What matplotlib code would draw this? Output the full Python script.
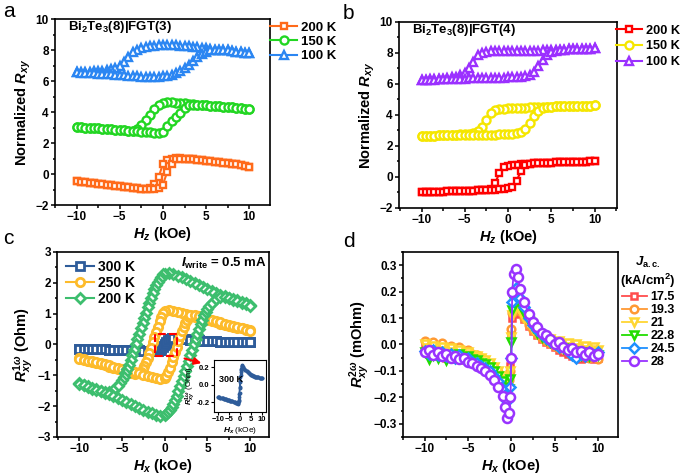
import matplotlib
matplotlib.use("Agg")
import matplotlib.pyplot as plt
from matplotlib.patches import Rectangle
from matplotlib.ticker import MultipleLocator

plt.rcParams['font.family'] = ['Liberation Sans', 'DejaVu Sans']
plt.rcParams['font.weight'] = 'bold'
plt.rcParams['axes.labelweight'] = 'bold'
plt.rcParams['mathtext.fontset'] = 'custom'
plt.rcParams['mathtext.rm'] = 'Liberation Sans:bold'
plt.rcParams['mathtext.it'] = 'Liberation Sans:italic:bold'
plt.rcParams['mathtext.bf'] = 'Liberation Sans:bold'

# ---------------- panel a / b : field grid (kOe) ----------------
H = [-10, -9.5, -9, -8.5, -8, -7.5, -7, -6.5, -6, -5.5, -5, -4.5, -4, -3.5, -3, -2.5, -2, -1.5, -1, -0.5,
     0, 0.5, 1, 1.5, 2, 2.5, 3, 3.5, 4, 4.5, 5, 5.5, 6, 6.5, 7, 7.5, 8, 8.5, 9, 9.5, 10]

# panel a, Bi2Te3(8)|FGT(3); "up" = sweep from -10, "dn" = sweep from +10
a200_up = [-0.45, -0.49, -0.53, -0.57, -0.6, -0.63, -0.67, -0.7, -0.73, -0.77, -0.8, -0.83, -0.86, -0.89, -0.92, -0.95, -0.97, -0.99, -0.98, -0.93,
           -0.7, 0.15, 0.62, 0.95, 1.0, 0.98, 0.96, 0.94, 0.92, 0.9, 0.87, 0.84, 0.8, 0.77, 0.73, 0.7, 0.66, 0.62, 0.57, 0.52, 0.46]
a200_dn = [-0.45, -0.49, -0.53, -0.57, -0.6, -0.63, -0.67, -0.7, -0.73, -0.77, -0.8, -0.83, -0.86, -0.89, -0.92, -0.95, -0.97, -0.92, -0.65, -0.2,
           0.65, 0.92, 1.0, 1.02, 1.01, 0.98, 0.96, 0.94, 0.92, 0.9, 0.87, 0.84, 0.8, 0.77, 0.73, 0.7, 0.66, 0.62, 0.57, 0.52, 0.46]
a150_up = [3.05, 3.02, 3.0, 2.98, 2.96, 2.94, 2.92, 2.9, 2.88, 2.86, 2.84, 2.82, 2.8, 2.78, 2.76, 2.74, 2.71, 2.68, 2.65, 2.63,
           2.72, 3.1, 3.4, 3.68, 3.95, 4.25, 4.42, 4.46, 4.46, 4.45, 4.43, 4.41, 4.39, 4.37, 4.35, 4.33, 4.3, 4.28, 4.25, 4.22, 4.2]
a150_dn = [3.05, 3.02, 3.0, 2.98, 2.96, 2.94, 2.92, 2.9, 2.88, 2.86, 2.84, 2.82, 2.8, 2.8, 2.9, 3.18, 3.5, 3.8, 4.17, 4.45,
           4.58, 4.62, 4.62, 4.6, 4.58, 4.56, 4.53, 4.5, 4.47, 4.45, 4.43, 4.41, 4.39, 4.37, 4.35, 4.33, 4.3, 4.28, 4.25, 4.22, 4.2]
a100_up = [6.55, 6.54, 6.53, 6.51, 6.5, 6.48, 6.46, 6.44, 6.42, 6.4, 6.38, 6.36, 6.34, 6.32, 6.3, 6.29, 6.28, 6.27, 6.27, 6.28,
           6.3, 6.34, 6.4, 6.5, 6.64, 6.84, 7.06, 7.3, 7.55, 7.75, 7.9, 7.98, 8.02, 8.02, 8.0, 7.97, 7.94, 7.9, 7.86, 7.82, 7.78]
a100_dn = [6.55, 6.57, 6.58, 6.6, 6.62, 6.64, 6.67, 6.71, 6.76, 6.84, 7.0, 7.25, 7.55, 7.85, 8.02, 8.12, 8.2, 8.25, 8.28, 8.3,
           8.31, 8.32, 8.31, 8.3, 8.28, 8.26, 8.24, 8.21, 8.18, 8.14, 8.1, 8.06, 8.03, 8.02, 8.0, 7.97, 7.94, 7.9, 7.86, 7.82, 7.78]

# panel b, Bi2Te3(8)|FGT(4)
b200_dn = [-0.98, -0.97, -0.96, -0.96, -0.95, -0.94, -0.93, -0.93, -0.92, -0.91, -0.9, -0.89, -0.88, -0.86, -0.84, -0.82, -0.78, -0.4, 0.25, 0.62,
           0.74, 0.78, 0.8, 0.82, 0.85, 0.87, 0.89, 0.9, 0.91, 0.92, 0.93, 0.94, 0.95, 0.96, 0.96, 0.97, 0.98, 0.98, 0.99, 1.0, 1.0]
b200_up = [-0.98, -0.97, -0.96, -0.96, -0.95, -0.94, -0.93, -0.93, -0.92, -0.91, -0.9, -0.89, -0.88, -0.86, -0.84, -0.82, -0.84, -0.82, -0.8, -0.78,
           -0.74, -0.62, -0.25, 0.4, 0.76, 0.84, 0.89, 0.9, 0.91, 0.92, 0.93, 0.94, 0.95, 0.96, 0.96, 0.97, 0.98, 0.98, 0.99, 1.0, 1.0]
b150_dn = [2.64, 2.65, 2.66, 2.67, 2.68, 2.69, 2.7, 2.72, 2.73, 2.75, 2.77, 2.8, 2.85, 2.95, 3.25, 3.7, 4.1, 4.3, 4.36, 4.4,
           4.42, 4.44, 4.46, 4.47, 4.48, 4.49, 4.5, 4.51, 4.52, 4.53, 4.54, 4.55, 4.56, 4.57, 4.58, 4.58, 4.59, 4.6, 4.6, 4.61, 4.62]
b150_up = [2.64, 2.65, 2.66, 2.67, 2.68, 2.69, 2.7, 2.7, 2.71, 2.71, 2.72, 2.72, 2.72, 2.73, 2.73, 2.73, 2.74, 2.74, 2.75, 2.76,
           2.77, 2.79, 2.82, 2.9, 3.1, 3.5, 3.95, 4.25, 4.42, 4.5, 4.54, 4.55, 4.56, 4.57, 4.58, 4.58, 4.59, 4.6, 4.6, 4.61, 4.62]
b100_dn = [6.25, 6.27, 6.29, 6.31, 6.33, 6.35, 6.38, 6.42, 6.47, 6.55, 6.7, 7.0, 7.45, 7.85, 8.0, 8.07, 8.1, 8.11, 8.12, 8.12,
           8.13, 8.13, 8.14, 8.14, 8.15, 8.15, 8.16, 8.16, 8.17, 8.18, 8.19, 8.2, 8.21, 8.22, 8.23, 8.24, 8.25, 8.26, 8.27, 8.28, 8.3]
b100_up = [6.25, 6.26, 6.27, 6.28, 6.29, 6.3, 6.31, 6.32, 6.33, 6.34, 6.35, 6.36, 6.36, 6.37, 6.38, 6.38, 6.39, 6.4, 6.4, 6.41,
           6.42, 6.43, 6.44, 6.46, 6.5, 6.6, 6.8, 7.15, 7.55, 7.85, 8.05, 8.15, 8.21, 8.22, 8.23, 8.24, 8.25, 8.26, 8.27, 8.28, 8.3]

# ---------------- panel c : first harmonic, Iwrite = 0.5 mA ----------------
c200_up_x = [-10, -9.5, -9, -8.5, -8, -7.5, -7, -6.5, -6, -5.5, -5, -4.5, -4, -3.5, -3, -2.5, -2, -1.5, -1, -0.5, 0,
             0.2, 0.4, 0.6, 0.8, 1.0, 1.2, 1.4, 1.6, 1.8, 2.0, 2.2, 2.4, 2.6, 2.8, 3.0, 3.2, 3.4, 3.6, 3.8, 4.0,
             4.2, 4.4, 4.6, 4.8, 5.0, 5.2, 5.5, 6, 6.5, 7, 7.5, 8, 8.5, 9, 9.5, 10]
c200_up_y = [-1.28, -1.33, -1.38, -1.43, -1.48, -1.52, -1.56, -1.6, -1.66, -1.73, -1.8, -1.87, -1.94, -2.0, -2.06, -2.12, -2.18, -2.23, -2.28, -2.31, -2.3,
             -2.27, -2.2, -2.12, -2.03, -1.93, -1.8, -1.66, -1.52, -1.36, -1.2, -1.03, -0.86, -0.69, -0.52, -0.35, -0.17, 0.0, 0.17, 0.34, 0.5,
             0.66, 0.81, 0.94, 1.06, 1.16, 1.25, 1.36, 1.48, 1.55, 1.55, 1.5, 1.45, 1.4, 1.35, 1.3, 1.25]
c200_dn_x = [-10, -9.5, -9, -8.5, -8, -7.5, -7, -6.5, -6, -5.5, -5.2, -5.0, -4.8, -4.6, -4.4, -4.2, -4.0, -3.8, -3.6, -3.4, -3.2,
             -3.0, -2.8, -2.6, -2.4, -2.2, -2.0, -1.8, -1.6, -1.4, -1.2, -1.0, -0.8, -0.6, -0.4, -0.2, 0,
             0.5, 1, 1.5, 2, 2.5, 3, 3.5, 4, 4.5, 5, 5.5, 6, 6.5, 7, 7.5, 8, 8.5, 9, 9.5, 10]
c200_dn_y = [-1.25, -1.3, -1.35, -1.4, -1.45, -1.5, -1.55, -1.55, -1.48, -1.36, -1.25, -1.16, -1.06, -0.94, -0.81, -0.66, -0.5, -0.34, -0.17, 0.0, 0.17,
             0.35, 0.52, 0.69, 0.86, 1.03, 1.2, 1.36, 1.52, 1.66, 1.8, 1.93, 2.03, 2.12, 2.2, 2.27, 2.3,
             2.31, 2.28, 2.23, 2.18, 2.12, 2.06, 2.0, 1.94, 1.87, 1.8, 1.73, 1.66, 1.6, 1.56, 1.52, 1.48, 1.43, 1.38, 1.33, 1.28]

c250_up_x = [-10, -9.5, -9, -8.5, -8, -7.5, -7, -6.5, -6, -5.5, -5, -4.5, -4, -3.5, -3, -2.5, -2, -1.5, -1, -0.5,
             0, 0.2, 0.4, 0.6, 0.8, 1.0, 1.2, 1.4, 1.6, 1.8, 2.0, 2.2, 2.4, 2.6, 2.8, 3.0,
             3.5, 4, 4.5, 5, 5.5, 6, 6.5, 7, 7.5, 8, 8.5, 9, 9.5, 10]
c250_up_y = [-0.47, -0.5, -0.52, -0.55, -0.58, -0.61, -0.64, -0.68, -0.72, -0.76, -0.8, -0.83, -0.87, -0.9, -0.94, -0.98, -1.02, -1.06, -1.1, -1.13,
             -1.1, -1.02, -0.9, -0.75, -0.58, -0.42, -0.25, -0.08, 0.1, 0.28, 0.44, 0.58, 0.7, 0.8, 0.88, 0.94,
             0.95, 0.93, 0.88, 0.84, 0.8, 0.76, 0.72, 0.68, 0.64, 0.6, 0.56, 0.52, 0.48, 0.44]
c250_dn_x = [-10, -9.5, -9, -8.5, -8, -7.5, -7, -6.5, -6, -5.5, -5, -4.5, -4, -3.5,
             -3.0, -2.8, -2.6, -2.4, -2.2, -2.0, -1.8, -1.6, -1.4, -1.2, -1.0, -0.8, -0.6, -0.4, -0.2, 0,
             0.5, 1, 1.5, 2, 2.5, 3, 3.5, 4, 4.5, 5, 5.5, 6, 6.5, 7, 7.5, 8, 8.5, 9, 9.5, 10]
c250_dn_y = [-0.44, -0.48, -0.52, -0.56, -0.6, -0.64, -0.68, -0.72, -0.76, -0.8, -0.84, -0.88, -0.93, -0.95,
             -0.94, -0.88, -0.8, -0.7, -0.58, -0.44, -0.28, -0.1, 0.08, 0.25, 0.42, 0.58, 0.75, 0.9, 1.02, 1.1,
             1.13, 1.1, 1.06, 1.02, 0.98, 0.94, 0.9, 0.87, 0.83, 0.8, 0.76, 0.72, 0.68, 0.64, 0.61, 0.58, 0.55, 0.52, 0.5, 0.47]

c300_x = [-10, -9.5, -9, -8.5, -8, -7.5, -7, -6.5, -6, -5.5, -5, -4.5, -4, -3.5, -3, -2.5, -2, -1.5, -1,
          -0.8, -0.6, -0.4, -0.2, 0, 0.2, 0.4, 0.6, 0.8, 1.0,
          1.5, 2, 2.5, 3, 3.5, 4, 4.5, 5, 5.5, 6, 6.5, 7, 7.5, 8, 8.5, 9, 9.5, 10]
c300_up_y = [-0.14, -0.145, -0.15, -0.15, -0.155, -0.16, -0.16, -0.165, -0.17, -0.17, -0.175, -0.18, -0.185, -0.19, -0.195, -0.2, -0.205, -0.21, -0.22,
             -0.21, -0.17, -0.11, -0.04, 0.03, 0.09, 0.14, 0.18, 0.2, 0.21,
             0.2, 0.18, 0.165, 0.15, 0.14, 0.13, 0.12, 0.11, 0.105, 0.1, 0.095, 0.09, 0.088, 0.085, 0.082, 0.08, 0.078, 0.075]
c300_dn_y = [-0.14, -0.145, -0.15, -0.15, -0.155, -0.16, -0.16, -0.165, -0.17, -0.17, -0.175, -0.18, -0.185, -0.19, -0.195, -0.2, -0.205, -0.21, -0.21,
             -0.2, -0.18, -0.14, -0.09, -0.03, 0.04, 0.11, 0.17, 0.21, 0.22,
             0.2, 0.18, 0.165, 0.15, 0.14, 0.13, 0.12, 0.11, 0.105, 0.1, 0.095, 0.09, 0.088, 0.085, 0.082, 0.08, 0.078, 0.075]

# ---------------- panel d : second harmonic vs current density ----------------
XD = [-10, -9.5, -9, -8.5, -8, -7.5, -7, -6.5, -6, -5.5, -5, -4.5, -4, -3.5, -3, -2.5, -2, -1.5, -1,
      -0.75, -0.5, -0.25, -0.1, 0, 0.1, 0.25, 0.5, 0.75,
      1, 1.5, 2, 2.5, 3, 3.5, 4, 4.5, 5, 5.5, 6, 6.5, 7, 7.5, 8, 8.5, 9, 9.5, 10]
d_labels = ['17.5', '19.3', '21', '22.8', '24.5', '28']
d175 = [-0.01, -0.03, -0.02, -0.045, -0.03, -0.05, -0.04, -0.055, -0.045, -0.06, -0.055, -0.065, -0.07, -0.075, -0.085, -0.09, -0.1, -0.11, -0.12,
        -0.125, -0.13, -0.12, -0.08, 0.04, 0.1, 0.12, 0.13, 0.125,
        0.115, 0.095, 0.07, 0.05, 0.035, 0.02, 0.01, 0.0, -0.01, -0.02, -0.03, -0.035, -0.045, -0.04, -0.055, -0.05, -0.045, -0.055, -0.05]
d193 = [0.015, 0.0, 0.01, -0.01, 0.005, -0.015, -0.005, -0.02, -0.01, -0.025, -0.02, -0.035, -0.04, -0.05, -0.06, -0.075, -0.09, -0.105, -0.12,
        -0.135, -0.15, -0.135, -0.1, 0.06, 0.12, 0.145, 0.15, 0.14,
        0.125, 0.1, 0.075, 0.055, 0.04, 0.025, 0.015, 0.005, -0.005, -0.015, -0.01, -0.025, -0.03, -0.02, -0.04, -0.035, -0.05, -0.045, -0.055]
d21 = [0.0, -0.015, -0.005, -0.02, -0.01, -0.025, -0.015, -0.03, -0.02, -0.035, -0.03, -0.04, -0.045, -0.05, -0.06, -0.07, -0.085, -0.1, -0.12,
       -0.13, -0.15, -0.14, -0.1, 0.03, 0.11, 0.14, 0.15, 0.14,
       0.13, 0.1, 0.08, 0.06, 0.045, 0.035, 0.025, 0.02, 0.01, 0.015, 0.0, 0.005, -0.01, 0.0, -0.015, -0.005, -0.02, -0.01, -0.02]
d228 = [-0.03, -0.055, -0.04, -0.05, -0.035, -0.06, -0.045, -0.05, -0.035, -0.05, -0.045, -0.055, -0.06, -0.07, -0.075, -0.085, -0.1, -0.12, -0.14,
        -0.16, -0.18, -0.17, -0.13, 0.01, 0.13, 0.165, 0.175, 0.165,
        0.15, 0.12, 0.09, 0.065, 0.045, 0.03, 0.02, 0.01, 0.0, -0.01, -0.015, -0.02, -0.03, -0.025, -0.04, -0.03, -0.045, -0.035, -0.04]
d245 = [-0.025, -0.035, -0.02, -0.04, -0.03, -0.045, -0.035, -0.05, -0.04, -0.055, -0.05, -0.065, -0.07, -0.08, -0.09, -0.1, -0.12, -0.14, -0.17,
        -0.19, -0.215, -0.2, -0.16, -0.05, 0.16, 0.2, 0.215, 0.2,
        0.175, 0.14, 0.1, 0.075, 0.055, 0.04, 0.025, 0.015, 0.005, -0.01, -0.005, -0.025, -0.04, -0.05, -0.035, -0.045, -0.03, -0.04, -0.03]
d28 = [-0.03, -0.02, -0.04, -0.03, -0.045, -0.035, -0.05, -0.045, -0.055, -0.05, -0.065, -0.07, -0.08, -0.09, -0.1, -0.115, -0.135, -0.16, -0.195,
       -0.235, -0.28, -0.26, -0.2, -0.05, 0.2, 0.265, 0.285, 0.255,
       0.21, 0.16, 0.115, 0.085, 0.065, 0.045, 0.035, 0.02, 0.0, 0.01, -0.01, -0.02, -0.015, -0.03, -0.025, -0.04, -0.03, -0.045, -0.035]


def loop(up, dn):
    # sweep from +10 down to -10, then back up
    return H[::-1] + H, dn[::-1] + up


def style_axes(ax, xminor, ymajor, yminor):
    ax.xaxis.set_major_locator(MultipleLocator(5))
    ax.xaxis.set_minor_locator(MultipleLocator(xminor))
    ax.yaxis.set_major_locator(MultipleLocator(ymajor))
    ax.yaxis.set_minor_locator(MultipleLocator(yminor))
    ax.tick_params(which='both', direction='out', labelsize=8.5, width=1.1, pad=1.5)
    ax.tick_params(which='major', length=3)
    ax.tick_params(which='minor', length=1.8)
    for s in ax.spines.values():
        s.set_linewidth(1.2)


fig = plt.figure(figsize=(6.83, 4.74), dpi=100)
leg_kw = dict(frameon=False, handlelength=2.0, handletextpad=0.3,
              borderpad=0, borderaxespad=0.2)

# ---------- a ----------
ax = fig.add_axes([0.0805, 0.5675, 0.3148, 0.3924])
for up, dn, c, m, ms, lab in [(a200_up, a200_dn, '#FF6A1A', 's', 5, '200 K'),
                              (a150_up, a150_dn, '#22D622', 'o', 5.8, '150 K'),
                              (a100_up, a100_dn, '#2B86F2', '^', 6, '100 K')]:
    x, y = loop(up, dn)
    ax.plot(x, y, '-', color=c, lw=1.5, marker=m, ms=ms, mfc='white', mec=c, mew=1.7, label=lab)
ax.set_xlim(-12.5, 12.4)
ax.set_ylim(-2, 10)
style_axes(ax, 2.5, 2, 1)
ax.set_xlabel(r'$H_z$ (kOe)', fontsize=10.5, labelpad=1)
ax.set_ylabel(r'Normalized $R_{xy}$', fontsize=10.5, labelpad=2)
ax.text(0.06, 0.955, r'Bi$_2$Te$_3$(8)|FGT(3)', transform=ax.transAxes, fontsize=9.5, va='center')
ax.legend(loc='upper left', bbox_to_anchor=(0.99, 1.0), fontsize=9.5, labelspacing=0.15, **leg_kw)
fig.text(0.004, 0.975, 'a', fontsize=15, fontweight='normal', va='center')

# ---------- b ----------
ax = fig.add_axes([0.5842, 0.5612, 0.3192, 0.3924])
for up, dn, c, m, ms, lab in [(b200_up, b200_dn, '#FF0000', 's', 5, '200 K'),
                              (b150_up, b150_dn, '#F5E600', 'o', 5.8, '150 K'),
                              (b100_up, b100_dn, '#9B30FF', '^', 6, '100 K')]:
    x, y = loop(up, dn)
    ax.plot(x, y, '-', color=c, lw=1.5, marker=m, ms=ms, mfc='white', mec=c, mew=1.7, label=lab)
ax.set_xlim(-12.6, 12.6)
ax.set_ylim(-2, 10)
style_axes(ax, 2.5, 2, 1)
ax.set_xlabel(r'$H_z$ (kOe)', fontsize=10.5, labelpad=1)
ax.set_ylabel(r'Normalized $R_{xy}$', fontsize=10.5, labelpad=2)
ax.text(0.06, 0.955, r'Bi$_2$Te$_3$(8)|FGT(4)', transform=ax.transAxes, fontsize=9.5, va='center')
ax.legend(loc='upper left', bbox_to_anchor=(0.985, 1.0), fontsize=9.2, labelspacing=0.3, **leg_kw)
fig.text(0.502, 0.972, 'b', fontsize=15, fontweight='normal', va='center')

# ---------- c ----------
ax = fig.add_axes([0.0835, 0.0781, 0.3104, 0.3903])
series_c = [(c300_x, c300_dn_y, c300_x, c300_up_y, '#2E5C9A', 's', 5.5, '300 K'),
            (c250_dn_x, c250_dn_y, c250_up_x, c250_up_y, '#FDBB2B', 'o', 6, '250 K'),
            (c200_dn_x, c200_dn_y, c200_up_x, c200_up_y, '#3DBE6E', 'D', 5.5, '200 K')]
for dx, dy, ux, uy, c, m, ms, lab in series_c:
    ax.plot(dx[::-1] + ux, dy[::-1] + uy, '-', color=c, lw=1.5, marker=m, ms=ms,
            mfc='white', mec=c, mew=2, label=lab)
ax.set_xlim(-12.6, 12.2)
ax.set_ylim(-3, 3)
style_axes(ax, 2.5, 1, 0.5)
ax.set_xlabel(r'$H_x$ (kOe)', fontsize=10.5, labelpad=1)
ax.set_ylabel(r'$R^{1\omega}_{xy}$ (Ohm)', fontsize=10.5, labelpad=1)
ax.legend(loc='upper left', bbox_to_anchor=(0.03, 0.97), fontsize=10, labelspacing=0.12, **leg_kw)
ax.text(0.99, 0.94, r'$I_{\rm write}$ = 0.5 mA', transform=ax.transAxes, fontsize=9.5,
        ha='right', va='center')
ax.add_patch(Rectangle((-1.1, -0.36), 2.55, 0.7, fill=False, ec='red', lw=1.5, ls='--', zorder=5))
ax.annotate('', xy=(4.6, -0.63), xytext=(2.0, -0.43),
            arrowprops=dict(arrowstyle='-|>', color='red', lw=1.5, mutation_scale=10))
fig.text(0.004, 0.497, 'c', fontsize=15, fontweight='normal', va='center')

# inset: 300 K zoom
ins = fig.add_axes([0.3133, 0.1308, 0.0762, 0.1097])
ins.plot(c300_x[::-1] + c300_x, c300_dn_y[::-1] + c300_up_y, '-', color='#2E5C9A', lw=1,
         marker='o', ms=1.8, mfc='#2E5C9A', mec='#2E5C9A')
ins.set_xlim(-12, 12)
ins.set_ylim(-0.31, 0.28)
ins.set_xticks([-10, -5, 0, 5, 10])
ins.set_yticks([-0.2, 0.0, 0.2])
ins.set_yticklabels(['-0.2', '0.0', '0.2'])
ins.tick_params(labelsize=5.5, length=2, pad=1, width=0.8)
for s in ins.spines.values():
    s.set_linewidth(0.8)
ins.set_xlabel(r'$H_x$ (kOe)', fontsize=6, labelpad=1, fontweight='normal')
ins.set_ylabel(r'$R^{1\omega}_{xy}$ (Ohm)', fontsize=5.5, labelpad=0, fontweight='normal')
ins.text(0.1, 0.62, '300 K', transform=ins.transAxes, fontsize=6.5, va='center')

# ---------- d ----------
ax = fig.add_axes([0.590, 0.0781, 0.3148, 0.3903])
d_series = [d175, d193, d21, d228, d245, d28]
d_colors = ['#FF4D4D', '#FF9933', '#FFD633', '#22DD00', '#1E90FF', '#9933FF']
d_markers = ['s', 'o', 'v', 'v', 'D', 'o']
d_sizes = [5, 5.5, 5.5, 5.5, 5, 6.5]
for yv, c, m, ms, lab in zip(d_series, d_colors, d_markers, d_sizes, d_labels):
    ax.plot(XD, yv, '-', color=c, lw=1.3, marker=m, ms=ms, mfc='white', mec=c, mew=1.8, label=lab)
ax.set_xlim(-12.5, 12.3)
ax.set_ylim(-0.35, 0.35)
style_axes(ax, 2.5, 0.1, 0.05)
ax.set_xlabel(r'$H_x$ (kOe)', fontsize=10.5, labelpad=1)
ax.set_ylabel(r'$R^{2\omega}_{xy}$ (mOhm)', fontsize=10.5, labelpad=1)
leg = ax.legend(loc='upper left', bbox_to_anchor=(1.0, 1.0), fontsize=9,
                title=r'$J_{\rm a.c.}$' + '\n' + r'(kA/cm$^2$)', title_fontsize=9.5,
                frameon=False, handlelength=2.0, handletextpad=0.3, labelspacing=0.08,
                borderpad=0, borderaxespad=0.2)
leg.get_title().set_multialignment('center')
fig.text(0.502, 0.49, 'd', fontsize=15, fontweight='normal', va='center')

fig.savefig('out.png', dpi=100)
